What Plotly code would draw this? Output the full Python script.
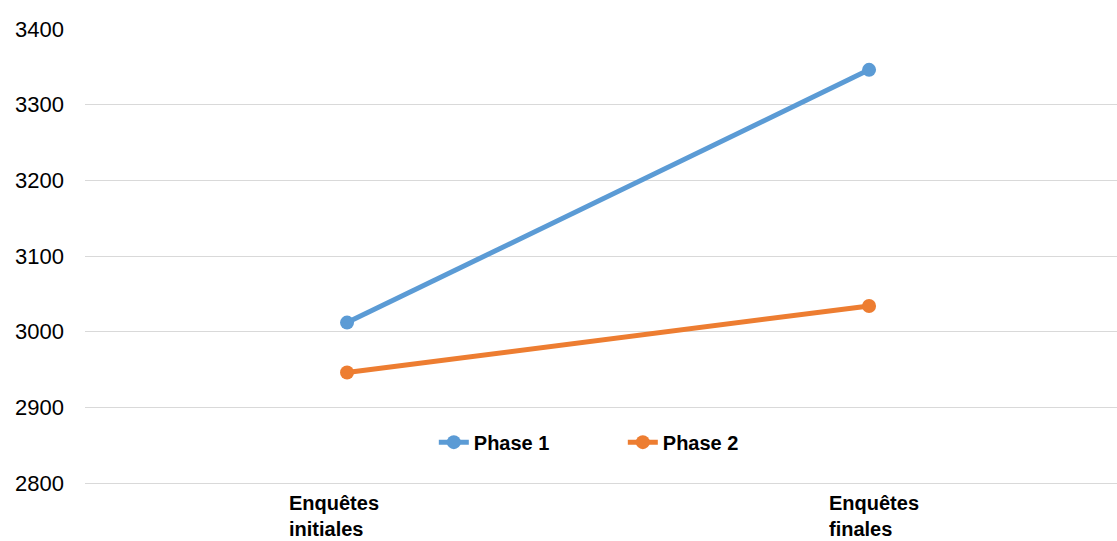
import plotly.graph_objects as go

categories = ["Enquêtes initiales", "Enquêtes finales"]
category_labels = ["Enquêtes<br>initiales", "Enquêtes<br>finales"]
phase1 = [3012, 3346]
phase2 = [2946, 3034]
y_ticks = [2800, 2900, 3000, 3100, 3200, 3300, 3400]

fig = go.Figure()
fig.add_trace(go.Scatter(
    x=categories, y=phase1, name="Phase 1", mode="lines+markers",
    line=dict(color="#5B9BD5", width=5), marker=dict(size=14, color="#5B9BD5"),
))
fig.add_trace(go.Scatter(
    x=categories, y=phase2, name="Phase 2", mode="lines+markers",
    line=dict(color="#ED7D31", width=5), marker=dict(size=14, color="#ED7D31"),
))

# left-aligned category labels under the axis
for cat, lab, shift in zip(categories, category_labels, [-60, -42]):
    fig.add_annotation(
        x=cat, y=0, xref="x", yref="paper", text=lab, showarrow=False,
        xanchor="left", yanchor="top", align="left", xshift=shift, yshift=-7,
        font=dict(family="Liberation Sans, Arial", size=20, color="#000000", weight="bold"),
    )

fig.update_layout(
    width=1117, height=541,
    margin=dict(l=85, r=0, t=29, b=58),
    paper_bgcolor="white", plot_bgcolor="white",
    font=dict(family="Liberation Sans, Arial", color="#000000"),
    showlegend=True,
    legend=dict(
        orientation="h", x=0.338, y=0.09, xanchor="left", yanchor="middle",
        bgcolor="rgba(0,0,0,0)",
        font=dict(size=20, color="#000000", weight="bold"),
        entrywidth=144, entrywidthmode="pixels",
    ),
    xaxis=dict(
        type="category", range=[-0.502, 1.475],
        showticklabels=False, showgrid=False, zeroline=False,
        showline=True, linecolor="#D9D9D9", linewidth=1,
    ),
    yaxis=dict(
        range=[2800, 3400], tickvals=y_ticks,
        showgrid=True, gridcolor="#D9D9D9", gridwidth=1,
        zeroline=False, showline=False,
        tickfont=dict(size=22, color="#000000"),
        ticklabelstandoff=20,
    ),
)

fig.write_html("out.html")
